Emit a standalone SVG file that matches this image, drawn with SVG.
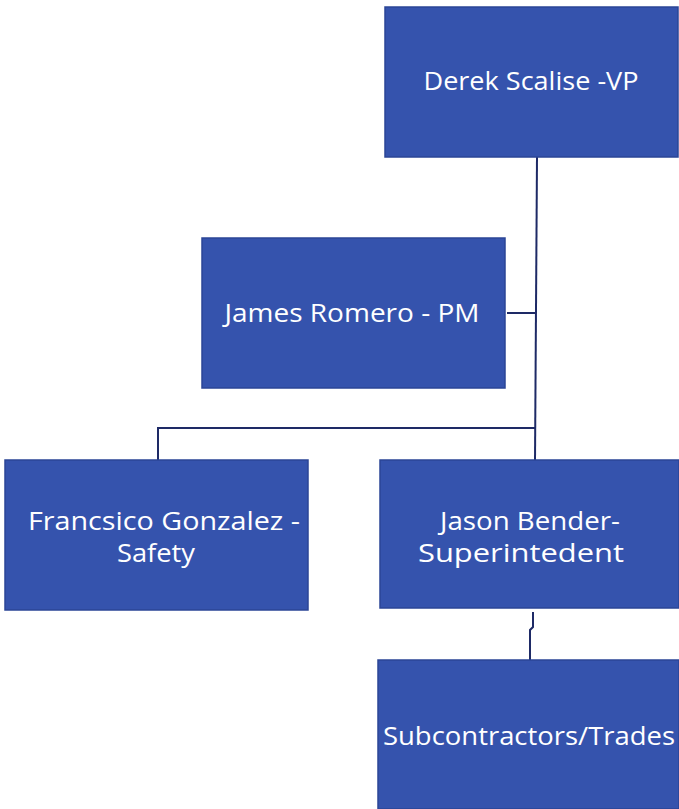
<svg xmlns="http://www.w3.org/2000/svg" width="679" height="809" viewBox="0 0 679 809">
<style>
.box{fill:#3553ad;stroke:#2b4596;stroke-width:1.5}
.lbl{font-family:"Open Sans","Noto Sans","Liberation Sans",sans-serif;font-size:25px;fill:#ffffff;text-anchor:middle}
.ln{fill:none;stroke:#1e2a66;stroke-width:2}
</style>
<rect width="679" height="809" fill="#ffffff"/>
<g id="connectors">
<path class="ln" d="M537 157 L535 460"/>
<path class="ln" d="M507 313 L536 313"/>
<path class="ln" d="M158 460 L158 428 L535 428"/>
<path class="ln" d="M533 612 L533 627 L530 630 L530 660"/>
</g>
<g id="derek">
<rect class="box" x="385" y="7" width="293" height="150"/>
<text class="lbl" x="531" y="90" textLength="215" lengthAdjust="spacingAndGlyphs">Derek Scalise -VP</text>
</g>
<g id="james">
<rect class="box" x="202" y="238" width="303" height="150"/>
<text class="lbl" x="352" y="322" textLength="255" lengthAdjust="spacingAndGlyphs">James Romero - PM</text>
</g>
<g id="francisco">
<rect class="box" x="5" y="460" width="303" height="150"/>
<text class="lbl" x="164" y="530" textLength="272" lengthAdjust="spacingAndGlyphs">Francsico Gonzalez -</text>
<text class="lbl" x="156" y="562" textLength="78" lengthAdjust="spacingAndGlyphs">Safety</text>
</g>
<g id="jason">
<rect class="box" x="380" y="460" width="299" height="148"/>
<text class="lbl" x="530" y="530" textLength="180" lengthAdjust="spacingAndGlyphs">Jason Bender-</text>
<text class="lbl" x="521" y="562" textLength="206" lengthAdjust="spacingAndGlyphs">Superintedent</text>
</g>
<g id="subcontractors">
<rect class="box" x="378" y="660" width="301" height="149"/>
<text class="lbl" x="529" y="745" textLength="292" lengthAdjust="spacingAndGlyphs">Subcontractors/Trades</text>
</g>
</svg>
